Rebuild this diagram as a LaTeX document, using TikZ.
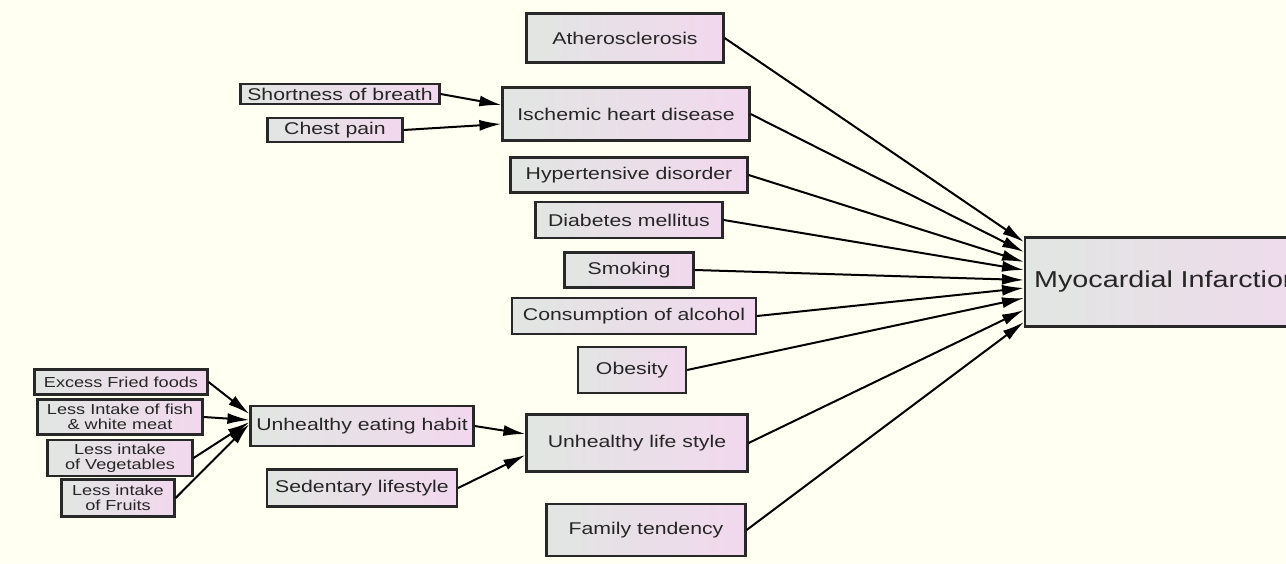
\documentclass[tikz,border=0pt]{standalone}
\usepackage{fontspec}
\setmainfont{Liberation Sans}[FakeStretch=1.25]
\usetikzlibrary{arrows.meta,calc}
\definecolor{bgcream}{RGB}{255,255,242}
\definecolor{boxleft}{RGB}{225,230,226}
\definecolor{boxright}{RGB}{242,216,238}
\definecolor{edgegray}{RGB}{40,40,40}
\definecolor{txtgray}{RGB}{38,38,38}

\begin{document}
\begin{tikzpicture}[x=1pt,y=-1pt,
  box/.style={rectangle,draw=edgegray,line width=2.2pt,
    left color=boxleft,right color=boxright,inner sep=0pt,
    align=center,text=txtgray,font=\fontsize{17}{19}\selectfont},
  smallbox/.style={box,font=\fontsize{14.5}{15.5}\selectfont},
  arrow/.style={-{Latex[length=22pt,width=11pt]},line width=2pt,color=black},
]
\useasboundingbox (0,0) rectangle (1286,564);
\clip (0,0) rectangle (1286,564);
\fill[bgcream] (0,0) rectangle (1286,564);

% main causes
\node[box,minimum width=197pt,minimum height=49pt] (ath) at (625,38) {Atherosclerosis};
\node[box,minimum width=247pt,minimum height=53pt] (ihd) at (626,114) {Ischemic heart disease};
\node[box,minimum width=237pt,minimum height=35pt] (hyp) at (629,175) {Hypertensive disorder};
\node[box,minimum width=187pt,minimum height=36pt] (dia) at (629,220) {Diabetes mellitus};
\node[box,minimum width=129pt,minimum height=35pt] (smk) at (629,270) {Smoking};
\node[box,minimum width=244pt,minimum height=36pt] (alc) at (634,316) {Consumption of alcohol};
\node[box,minimum width=108pt,minimum height=46pt] (obs) at (632,370) {Obesity};
\node[box,minimum width=221pt,minimum height=57pt] (uls) at (637,443) {Unhealthy life style};
\node[box,minimum width=199pt,minimum height=52pt] (fam) at (646,530) {Family tendency};

\node[box,anchor=west,minimum height=89pt,text width=320pt,inner xsep=9pt,
  align=left,font=\fontsize{23}{25}\selectfont] (mi) at (1024,282) {Myocardial Infarction};

% symptoms
\node[box,minimum width=199pt,minimum height=20pt] (sob) at (340,94) {Shortness of breath};
\node[box,minimum width=135pt,minimum height=24pt] (chp) at (335,130) {Chest pain};

% life style
\node[box,minimum width=223pt,minimum height=40pt] (eat) at (362,426) {Unhealthy eating habit};
\node[box,minimum width=190pt,minimum height=37pt] (sed) at (362,488) {Sedentary lifestyle};

% eating habits
\node[smallbox,minimum width=173pt,minimum height=25pt] (fri) at (121,382) {Excess Fried foods};
\node[smallbox,minimum width=165pt,minimum height=35pt] (fsh) at (120,417) {Less Intake of fish\\\& white meat};
\node[smallbox,minimum width=145pt,minimum height=36pt] (veg) at (120,458) {Less intake\\of Vegetables};
\node[smallbox,minimum width=113pt,minimum height=37pt] (frt) at (118,498) {Less intake\\of Fruits};

\draw[arrow] (ath.east) -- ([yshift=40pt]mi.west);
\draw[arrow] (ihd.east) -- ([yshift=30pt]mi.west);
\draw[arrow] (hyp.east) -- ([yshift=20pt]mi.west);
\draw[arrow] (dia.east) -- ([yshift=12pt]mi.west);
\draw[arrow] (smk.east) -- ([yshift=2pt]mi.west);
\draw[arrow] (alc.east) -- ([yshift=-6pt]mi.west);
\draw[arrow] (obs.east) -- ([yshift=-16pt]mi.west);
\draw[arrow] (uls.east) -- ([yshift=-28pt]mi.west);
\draw[arrow] (fam.east) -- ([yshift=-40pt]mi.west);

\draw[arrow] (sob.east) -- ([yshift=9pt]ihd.west);
\draw[arrow] (chp.east) -- ([yshift=-10pt]ihd.west);

\draw[arrow] (eat.east) -- ([yshift=9pt]uls.west);
\draw[arrow] (sed.east) -- ([yshift=-12pt]uls.west);

\draw[arrow] (fri.east) -- ([yshift=12pt]eat.west);
\draw[arrow] (fsh.east) -- ([yshift=6pt]eat.west);
\draw[arrow] (veg.east) -- ([yshift=4pt]eat.west);
\draw[arrow] (frt.east) -- ([yshift=2pt]eat.west);
\end{tikzpicture}
\end{document}
